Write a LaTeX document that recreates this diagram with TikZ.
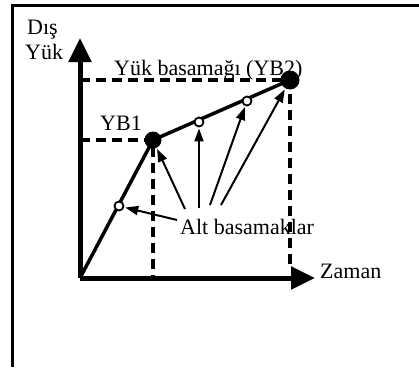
\documentclass[tikz,border=0pt]{standalone}
\usepackage{fontspec}
\setmainfont{Liberation Serif}
\usetikzlibrary{arrows.meta}
\begin{document}
\begin{tikzpicture}[x=1pt,y=-1pt,
  lbl/.style={font=\fontsize{22}{25}\selectfont, inner sep=0pt, anchor=base west},
  axis/.style={line width=5pt, -{Triangle[length=24pt,width=22pt]}},
  graph/.style={line width=3.5pt},
  dsh/.style={line width=3.5pt, dash pattern=on 10pt off 6pt},
  big/.style={circle, fill=black, inner sep=0pt},
  small/.style={circle, draw=black, fill=white, line width=1.8pt, minimum size=9pt, inner sep=0pt},
  pt/.style={line width=2pt, -{Triangle[length=13pt,width=9pt]}, shorten >=1pt}]
\useasboundingbox (0,0) rectangle (419,367);
% frame
\draw[line width=3pt] (419,5) -- (12,5) -- (12,367);
% coordinates
\coordinate (O) at (80,278);
\coordinate (ytop) at (80,38);
\coordinate (xend) at (315,278);
\coordinate (y1) at (80,140);
\coordinate (y2) at (80,80);
\coordinate (x1) at (153,278);
\coordinate (x2) at (290,270);
% dashed guides
\draw[dsh] (y1) -- (153,140) -- (x1);
\draw[dsh] (y2) -- (290,80) -- (x2);
% axes
\draw[axis] (O) -- (ytop);
\draw[axis] (O) -- (xend);
% graph
\draw[graph] (O) -- (153,140) -- (290,80);
\node[big, minimum size=17pt] (YB1) at (153,140) {};
\node[big, minimum size=19pt] (YB2) at (290,80) {};
\node[small] (s1) at (119,206) {};
\node[small] (s2) at (199,122) {};
\node[small] (s3) at (247,101) {};
% labels
\node[lbl] (dis) at (27,34) {Dış};
\node[lbl] (yuk) at (25,59) {Yük};
\node[lbl] (yb2l) at (114,75) {Yük basamağı (YB2)};
\node[lbl] (yb1l) at (100,130) {YB1};
\node[lbl] (alt) at (180,234) {Alt basamaklar};
\node[lbl] (zaman) at (320,278) {Zaman};
% pointer arrows
\coordinate (a1) at (177,220);
\coordinate (a2) at (185,209);
\coordinate (a3) at (199,208);
\coordinate (a4) at (210,205);
\coordinate (a5) at (221,205);
\draw[pt] (a1) -- (s1);
\draw[pt] (a2) -- (YB1);
\draw[pt] (a3) -- (s2);
\draw[pt] (a4) -- (s3);
\draw[pt] (a5) -- (YB2);
\end{tikzpicture}
\end{document}
